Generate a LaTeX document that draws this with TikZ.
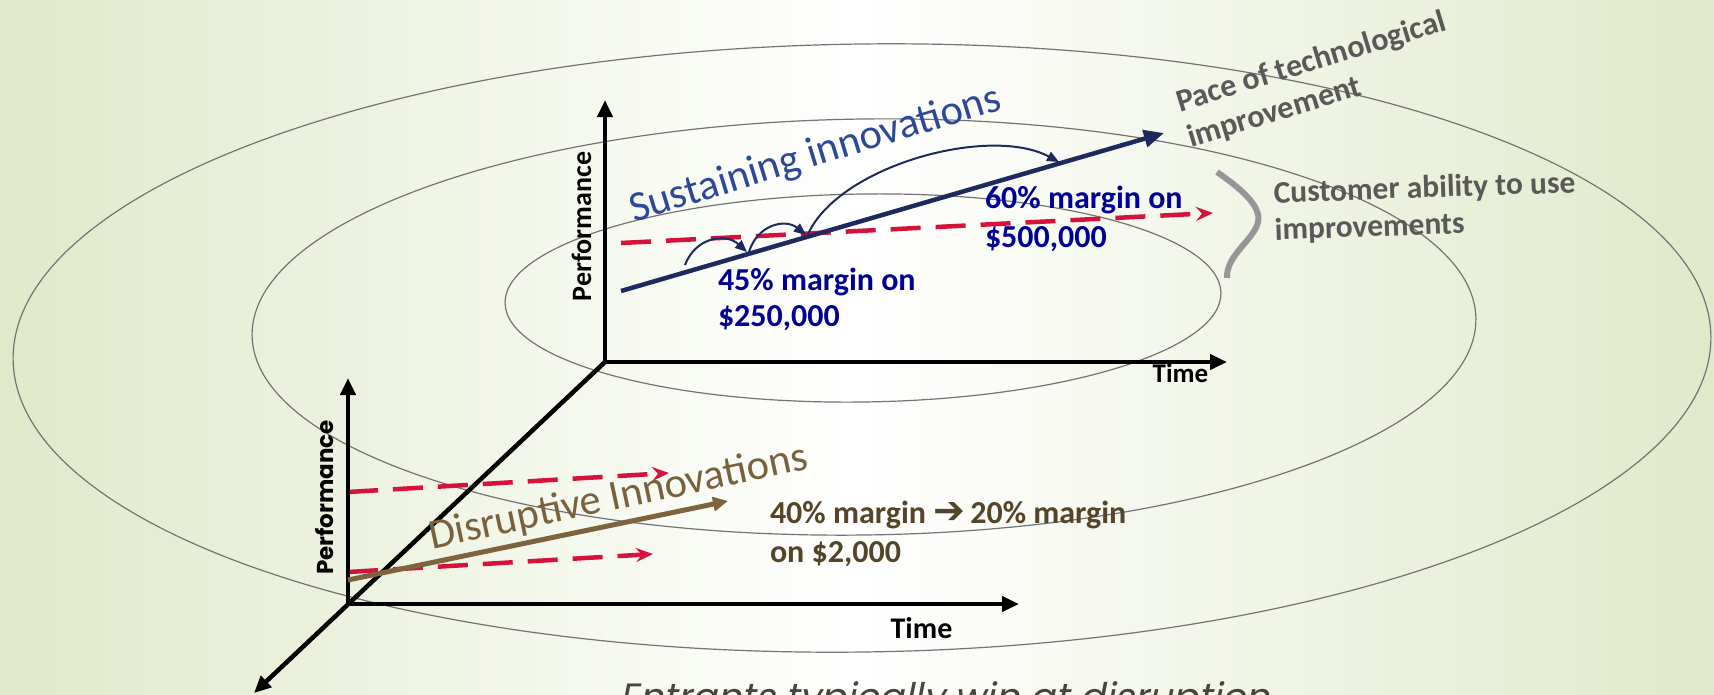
\documentclass[tikz,border=0pt]{standalone}
\usepackage{fontspec}
\setmainfont{Carlito}
\newfontfamily\geo{Poppins}
\newfontfamily\geoit{Poppins}[FakeSlant=0.2]
\newfontfamily\symf{DejaVu Sans}
\usetikzlibrary{arrows.meta}
\definecolor{bgG}{RGB}{224,233,202}
\definecolor{ellgray}{RGB}{115,115,115}
\definecolor{navy}{RGB}{30,42,94}
\definecolor{crim}{RGB}{214,18,58}
\definecolor{brownA}{RGB}{125,100,62}
\definecolor{brownT}{RGB}{120,98,62}
\definecolor{darkbrown}{RGB}{84,68,42}
\definecolor{blueT}{RGB}{0,0,150}
\definecolor{sustblue}{RGB}{44,72,150}
\definecolor{paceg}{RGB}{89,89,89}
\definecolor{braceg}{RGB}{150,150,150}
\definecolor{bottomt}{RGB}{70,70,60}
\tikzset{
  ell/.style={draw=ellgray, line width=1.2pt},
  axisline/.style={line width=4.5pt, black, -{Triangle[length=17pt,width=15pt]}},
  navyarrow/.style={line width=4.5pt, navy, -{Triangle[length=20pt,width=17pt]}},
  hop/.style={line width=2pt, navy, -{Triangle[length=12pt,width=10pt]}},
  reddash/.style={line width=4.5pt, crim, dash pattern=on 30pt off 15pt, -{Stealth[length=17pt,width=14pt,inset=6pt]}},
  brownarrow/.style={line width=5pt, brownA, -{Triangle[length=15pt,width=14pt]}},
  lbl/.style={inner sep=0pt, outer sep=0pt},
  axlbl/.style={lbl, font=\fontsize{28}{30}\selectfont\bfseries, text=black},
  margin/.style={lbl, anchor=base west, font=\fontsize{32}{36}\selectfont\bfseries},
  grayt/.style={lbl, anchor=base west, text=paceg, font=\fontsize{31.5}{36}\selectfont\bfseries},
}
\begin{document}
\begin{tikzpicture}[x=1pt,y=-1pt]
\useasboundingbox (0,0) rectangle (1714,694);
\clip (0,0) rectangle (1714,694);
\shade[left color=bgG, right color=bgG, middle color=white] (0,0) rectangle (1714,694);

% ellipses
\draw[ell, rotate around={0.8:(862,348)}] (862,348) ellipse [x radius=849pt, y radius=304pt];
\draw[ell, rotate around={0.8:(864,327)}] (864,327) ellipse [x radius=612pt, y radius=208pt];
\draw[ell, rotate around={0.8:(863,298)}] (863,298) ellipse [x radius=358pt, y radius=104pt];

% coordinates
\coordinate (O1) at (605,362);
\coordinate (P1) at (605,100);
\coordinate (T1) at (1227,362);
\coordinate (O2) at (348,604);
\coordinate (P2) at (348,378);
\coordinate (T2) at (1019,604);
\coordinate (D) at (254,693);

\coordinate (NA) at (621,291);
\coordinate (NB) at (1164,133);
\coordinate (R1a) at (621,243);
\coordinate (R1b) at (1213,213);
\coordinate (R2a) at (348,492);
\coordinate (R2b) at (669,473);
\coordinate (R3a) at (348,572);
\coordinate (R3b) at (653,554);
\coordinate (BA) at (348,580);
\coordinate (BB) at (728,501);

\coordinate (H1a) at (685,265);
\coordinate (H1b) at (747,252);
\coordinate (H2a) at (749,252);
\coordinate (H2b) at (806,235);
\coordinate (H3a) at (808,234);
\coordinate (H3b) at (1059,162);

% red dashed lines
\draw[reddash] (R1a) -- (R1b);
\draw[reddash] (R2a) -- (R2b);
\draw[reddash] (R3a) -- (R3b);

% axes
\draw[axisline] (O1) -- (P1);
\draw[axisline] (O1) -- (T1);
\draw[axisline] (O1) -- (D);
\draw[axisline] (O2) -- (P2);
\draw[axisline] (O2) -- (T2);

% navy main arrow and hops
\draw[navyarrow] (NA) -- (NB);
\draw[hop] (H1a) .. controls (695,238) and (725,232) .. (H1b);
\draw[hop] (H2a) .. controls (757,225) and (785,218) .. (H2b);
\draw[hop] (H3a) .. controls (840,165) and (990,125) .. (H3b);

% brown arrow
\draw[brownarrow] (BA) -- (BB);

% brace
\coordinate (BrA) at (1217,172);
\coordinate (BrM) at (1258,222);
\coordinate (BrB) at (1227,278);
\draw[braceg, line width=6pt] (BrA) .. controls (1237,186) and (1262,205) .. (BrM) .. controls (1254,240) and (1226,255) .. (BrB);

% axis labels
\node[axlbl, rotate=90, anchor=base] (perf1) at (591,226.5) {Performance};
\node[axlbl, font=\fontsize{27}{30}\selectfont\bfseries, anchor=base] (time1) at (1180.5,382) {Time};
\node[lbl, rotate=90, anchor=base, font=\geo\fontsize{23}{26}\selectfont\bfseries] (perf2) at (333,497.5) {Performance};
\node[axlbl, font=\fontsize{30}{32}\selectfont\bfseries, anchor=base] (time2) at (921.5,638) {Time};

% titles
\node[lbl, anchor=base west, rotate=17, text=sustblue, font=\fontsize{42.5}{44}\selectfont] (sust) at (634,222) {Sustaining innovations};
\node[lbl, anchor=base west, rotate=12, text=brownT, font=\fontsize{42.5}{44}\selectfont] (disr) at (432,549) {Disruptive Innovations};

% margin texts
\node[margin, text=blueT] (m45a) at (718,290) {45\% margin on};
\node[margin, text=blueT] (m45b) at (718,326) {\$250,000};
\node[margin, text=blueT] (m60a) at (985,208) {60\% margin on};
\node[margin, text=blueT] (m60b) at (985,247) {\$500,000};
\node[margin, text=darkbrown] (m40a) at (770,523) {40\% margin {\symf\bfseries\fontsize{38}{30}\selectfont ➔}\kern-2pt{} 20\% margin};
\node[margin, text=darkbrown] (m40b) at (770,562) {on \$2,000};

% gray labels
\node[grayt, font=\fontsize{32}{36}\selectfont\bfseries, rotate=17] (pace1) at (1180,112) {Pace of technological};
\node[grayt, font=\fontsize{32}{36}\selectfont\bfseries, rotate=17] (pace2) at (1191,147.5) {improvement};
\node[grayt, rotate=2] (cust1) at (1274,203) {Customer ability to use};
\node[grayt, rotate=2] (cust2) at (1275,240) {improvements};

% bottom text
\node[lbl, anchor=base, text=bottomt, font=\geoit\fontsize{38}{40}\selectfont] (entr) at (945,710) {Entrants typically win at disruption};
\end{tikzpicture}
\end{document}
